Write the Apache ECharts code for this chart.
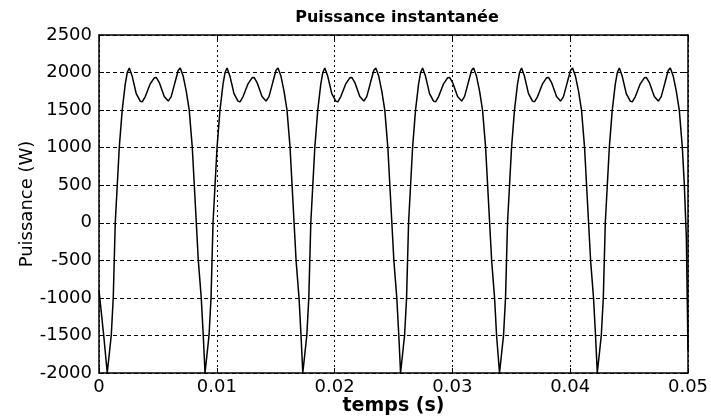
<!DOCTYPE html>
<html>
<head>
<meta charset="utf-8">
<script src="https://cdn.jsdelivr.net/npm/echarts@6/dist/echarts.min.js"></script>
<style>
html,body{margin:0;padding:0;background:#fff;}
#chart{width:711px;height:419px;}
</style>
</head>
<body>
<div id="chart"></div>
<script>
const chartTitle = 'Puissance instantanée';
const xName = 'temps (s)';
const yName = 'Puissance (W)';
const xTicks = [0, 0.01, 0.02, 0.03, 0.04, 0.05];
const yTicks = [-2000, -1500, -1000, -500, 0, 500, 1000, 1500, 2000, 2500];

// temps (s)
const time = [
  0.00000, 0.00040,
  0.00070, 0.00104, 0.00121, 0.00138, 0.00155, 0.00172, 0.00197, 0.00223, 0.00240, 0.00257, 0.00282, 0.00316, 0.00350, 0.00367, 0.00393, 0.00435, 0.00469, 0.00486, 0.00511, 0.00554, 0.00588, 0.00613, 0.00647, 0.00673, 0.00690, 0.00715, 0.00741, 0.00766, 0.00792, 0.00809, 0.00826, 0.00843, 0.00868, 0.00885,
  0.00900, 0.00934, 0.00951, 0.00968, 0.00985, 0.01002, 0.01027, 0.01053, 0.01070, 0.01087, 0.01112, 0.01146, 0.01180, 0.01197, 0.01223, 0.01265, 0.01299, 0.01316, 0.01341, 0.01384, 0.01418, 0.01443, 0.01477, 0.01503, 0.01520, 0.01545, 0.01571, 0.01596, 0.01622, 0.01639, 0.01656, 0.01673, 0.01698, 0.01715,
  0.01730, 0.01764, 0.01781, 0.01798, 0.01815, 0.01832, 0.01857, 0.01883, 0.01900, 0.01917, 0.01942, 0.01976, 0.02010, 0.02027, 0.02053, 0.02095, 0.02129, 0.02146, 0.02171, 0.02214, 0.02248, 0.02273, 0.02307, 0.02333, 0.02350, 0.02375, 0.02401, 0.02426, 0.02452, 0.02469, 0.02486, 0.02503, 0.02528, 0.02545,
  0.02560, 0.02594, 0.02611, 0.02628, 0.02645, 0.02662, 0.02687, 0.02713, 0.02730, 0.02747, 0.02772, 0.02806, 0.02840, 0.02857, 0.02883, 0.02925, 0.02959, 0.02976, 0.03001, 0.03044, 0.03078, 0.03103, 0.03137, 0.03163, 0.03180, 0.03205, 0.03231, 0.03256, 0.03282, 0.03299, 0.03316, 0.03333, 0.03358, 0.03375,
  0.03400, 0.03434, 0.03451, 0.03468, 0.03485, 0.03502, 0.03527, 0.03553, 0.03570, 0.03587, 0.03612, 0.03646, 0.03680, 0.03697, 0.03723, 0.03765, 0.03799, 0.03816, 0.03841, 0.03884, 0.03918, 0.03943, 0.03977, 0.04003, 0.04020, 0.04045, 0.04071, 0.04096, 0.04122, 0.04139, 0.04156, 0.04173, 0.04198, 0.04215,
  0.04230, 0.04264, 0.04281, 0.04298, 0.04315, 0.04332, 0.04357, 0.04383, 0.04400, 0.04417, 0.04442, 0.04476, 0.04510, 0.04527, 0.04553, 0.04595, 0.04629, 0.04646, 0.04671, 0.04714, 0.04748, 0.04773, 0.04807, 0.04833, 0.04850, 0.04875, 0.04901, 0.04926, 0.04952, 0.04969, 0.04986, 0.05000
];

// puissance (W)
const power = [
  -900, -1500,
  -2000, -1500, -1000, 0, 500, 1000, 1500, 1850, 2000, 2060, 1950, 1720, 1620, 1610, 1680, 1850, 1930, 1935, 1870, 1680, 1620, 1680, 1880, 2030, 2060, 1950, 1750, 1500, 1000, 500, 0, -500, -1000, -1500,
  -2000, -1500, -1000, 0, 500, 1000, 1500, 1850, 2000, 2060, 1950, 1720, 1620, 1610, 1680, 1850, 1930, 1935, 1870, 1680, 1620, 1680, 1880, 2030, 2060, 1950, 1750, 1500, 1000, 500, 0, -500, -1000, -1500,
  -2000, -1500, -1000, 0, 500, 1000, 1500, 1850, 2000, 2060, 1950, 1720, 1620, 1610, 1680, 1850, 1930, 1935, 1870, 1680, 1620, 1680, 1880, 2030, 2060, 1950, 1750, 1500, 1000, 500, 0, -500, -1000, -1500,
  -2000, -1500, -1000, 0, 500, 1000, 1500, 1850, 2000, 2060, 1950, 1720, 1620, 1610, 1680, 1850, 1930, 1935, 1870, 1680, 1620, 1680, 1880, 2030, 2060, 1950, 1750, 1500, 1000, 500, 0, -500, -1000, -1500,
  -2000, -1500, -1000, 0, 500, 1000, 1500, 1850, 2000, 2060, 1950, 1720, 1620, 1610, 1680, 1850, 1930, 1935, 1870, 1680, 1620, 1680, 1880, 2030, 2060, 1950, 1750, 1500, 1000, 500, 0, -500, -1000, -1500,
  -2000, -1500, -1000, 0, 500, 1000, 1500, 1850, 2000, 2060, 1950, 1720, 1620, 1610, 1680, 1850, 1930, 1935, 1870, 1680, 1620, 1680, 1880, 2030, 2060, 1950, 1750, 1500, 1000, 500, -200, -1700
];

const data = time.map((t, i) => [t, power[i]]);
const font = '"DejaVu Sans", Arial, sans-serif';

const chart = echarts.init(document.getElementById('chart'), null, {renderer: 'canvas'});
chart.setOption({
  backgroundColor: '#ffffff',
  animation: false,
  title: {
    text: chartTitle,
    left: 392, textAlign: 'center', top: 5,
    textStyle: {fontFamily: font, fontWeight: 'bold', fontSize: 16, color: '#000'}
  },
  grid: {left: 99, right: 23, top: 35, bottom: 46, containLabel: false, outerBoundsMode: 'none'},
  xAxis: [{
    type: 'value',
    min: xTicks[0], max: xTicks[xTicks.length - 1], interval: 0.01,
    name: xName, nameLocation: 'middle', nameGap: 24, nameMoveOverlap: false,
    nameTextStyle: {fontFamily: font, fontWeight: 'bold', fontSize: 19, color: '#000'},
    axisLine: {show: true, onZero: false, lineStyle: {color: '#000', width: 1.5}},
    axisTick: {show: true, inside: true, length: 5, lineStyle: {color: '#000'}},
    axisLabel: {fontFamily: font, fontSize: 18, color: '#000', margin: 5,
      formatter: v => String(Math.round(v * 100) / 100)},
    splitLine: {show: true, lineStyle: {color: '#000', type: [2, 3], width: 1}}
  }, {
    type: 'value', position: 'top',
    min: xTicks[0], max: xTicks[xTicks.length - 1], interval: 0.01,
    axisLine: {show: true, onZero: false, lineStyle: {color: '#000', width: 1.5}},
    axisTick: {show: true, inside: true, length: 5, lineStyle: {color: '#000'}},
    axisLabel: {show: false}, splitLine: {show: false}
  }],
  yAxis: [{
    type: 'value',
    min: yTicks[0], max: yTicks[yTicks.length - 1], interval: 500,
    name: yName, nameLocation: 'middle', nameGap: 63, nameRotate: 90, nameMoveOverlap: false,
    nameTextStyle: {fontFamily: font, fontSize: 18, color: '#000'},
    axisLine: {show: true, onZero: false, lineStyle: {color: '#000', width: 1.5}},
    axisTick: {show: true, inside: true, length: 5, lineStyle: {color: '#000'}},
    axisLabel: {fontFamily: font, fontSize: 18, color: '#000', margin: 7,
      formatter: v => String(v)},
    splitLine: {show: true, lineStyle: {color: '#000', type: [4, 3], width: 1}}
  }, {
    type: 'value', position: 'right',
    min: yTicks[0], max: yTicks[yTicks.length - 1], interval: 500,
    axisLine: {show: true, onZero: false, lineStyle: {color: '#000', width: 1.5}},
    axisTick: {show: true, inside: true, length: 5, lineStyle: {color: '#000'}},
    axisLabel: {show: false}, splitLine: {show: false}
  }],
  series: [{
    type: 'line',
    data: data,
    showSymbol: false,
    smooth: false,
    lineStyle: {color: '#000', width: 1.5},
    clip: true
  }]
});
</script>
</body>
</html>
